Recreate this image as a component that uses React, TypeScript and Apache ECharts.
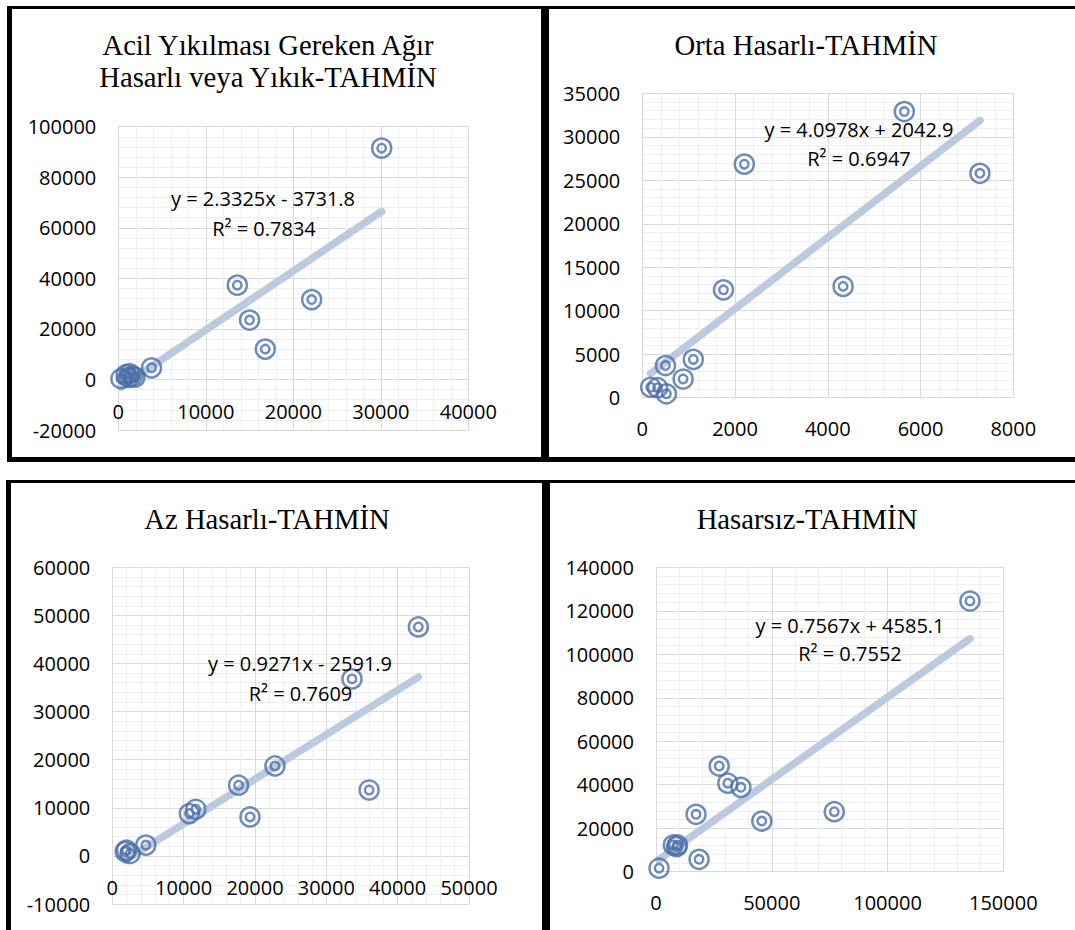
import React, { useEffect, useRef } from "react";
import * as echarts from "echarts";

// ---- Data ----
const titles1 = ["Acil Yıkılması Gereken Ağır", "Hasarlı veya Yıkık-TAHMİN"];
const title2 = "Orta Hasarlı-TAHMİN";
const title3 = "Az Hasarlı-TAHMİN";
const title4 = "Hasarsız-TAHMİN";

const p1X = [300, 900, 1300, 1600, 1200, 1900, 3800, 13600, 15000, 16800, 22100, 30100];
const p1Y = [300, 1900, 2300, 1300, 800, 900, 4600, 37300, 23500, 12000, 31600, 91500];
const p1Eq = ["y = 2.3325x - 3731.8", "R² = 0.7834"];
const p1Fit = [2.3325, -3731.8];

const p2X = [180, 330, 520, 880, 500, 1100, 1750, 2200, 4330, 5650, 7280];
const p2Y = [1200, 1150, 450, 2150, 3700, 4400, 12400, 26850, 12800, 32900, 25800];
const p2Eq = ["y = 4.0978x + 2042.9", "R² = 0.6947"];
const p2Fit = [4.0978, 2042.9];

const p3X = [1800, 2000, 2500, 4700, 10800, 11700, 17700, 19300, 22800, 33600, 36000, 42900];
const p3Y = [900, 1200, 500, 2250, 8800, 9700, 14700, 8100, 18700, 36800, 13700, 47600];
const p3Eq = ["y = 0.9271x - 2591.9", "R² = 0.7609"];
const p3Fit = [0.9271, -2591.9];

const p4X = [1300, 7500, 9300, 8900, 17300, 18600, 27300, 31000, 36700, 45700, 77000, 135600];
const p4Y = [1600, 12300, 12300, 11500, 26400, 5700, 48600, 40700, 38800, 23300, 27600, 124500];
const p4Eq = ["y = 0.7567x + 4585.1", "R² = 0.7552"];
const p4Fit = [0.7567, 4585.1];

// axis ranges: [xmin, xmax, xint, ymin, ymax, yint]
const p1Axes = [0, 40000, 10000, -20000, 100000, 20000];
const p2Axes = [0, 8000, 2000, 0, 35000, 5000];
const p3Axes = [0, 50000, 10000, -10000, 60000, 10000];
const p4Axes = [0, 150000, 50000, 0, 140000, 20000];

const MARK = "#4a6fa8";
const TREND = "#bccadf";
const LABEL_FONT = "Open Sans";
const TITLE_FONT = "Liberation Serif";

const panels = [
  { xs: p1X, ys: p1Y, fit: p1Fit, axes: p1Axes, xMargin: -28.3, grid: { left: 118.3, top: 126.7, width: 350, height: 303.3 } },
  { xs: p2X, ys: p2Y, fit: p2Fit, axes: p2Axes, xMargin: 21, grid: { left: 642.3, top: 93.3, width: 371, height: 304.4 } },
  { xs: p3X, ys: p3Y, fit: p3Fit, axes: p3Axes, xMargin: -26.7, grid: { left: 112.3, top: 567.3, width: 356.7, height: 336.7 } },
  { xs: p4X, ys: p4Y, fit: p4Fit, axes: p4Axes, xMargin: 21, grid: { left: 656, top: 567.3, width: 347.3, height: 304.4 } },
];

function axisCommon(min: number, max: number, interval: number, i: number, margin: number) {
  return {
    type: "value",
    gridIndex: i,
    min,
    max,
    interval,
    axisLine: { show: true, onZero: false, lineStyle: { color: "#d9d9d9", width: 1 } },
    axisTick: { show: false },
    axisLabel: {
      fontFamily: LABEL_FONT,
      fontSize: 20,
      color: "#000",
      margin,
      hideOverlap: false,
      formatter: (v: number) => String(v),
    },
    splitLine: { show: true, lineStyle: { color: "#d9d9d9", width: 1 } },
    minorTick: { show: false, splitNumber: 5 },
    minorSplitLine: { show: true, lineStyle: { color: "#efefef", width: 1 } },
  };
}

function textEl(text: string, x: number, y: number, font: string) {
  return {
    type: "text",
    x,
    y,
    z: 100,
    style: { text, font, fill: "#000", align: "center", verticalAlign: "middle" },
  };
}

export default function App() {
  const ref = useRef<HTMLDivElement>(null);
  useEffect(() => {
    if (!ref.current) return;
    const chart = echarts.init(ref.current, undefined, { renderer: "svg" });
    const grids: any[] = [];
    const xAxes: any[] = [];
    const yAxes: any[] = [];
    const series: any[] = [];
    panels.forEach((p, i) => {
      grids.push({ ...p.grid, containLabel: false });
      xAxes.push(axisCommon(p.axes[0], p.axes[1], p.axes[2], i, p.xMargin));
      yAxes.push(axisCommon(p.axes[3], p.axes[4], p.axes[5], i, 22));
      const pts = p.xs.map((x, k) => [x, p.ys[k]]);
      const xmin = Math.min(...p.xs);
      const xmax = Math.max(...p.xs);
      series.push({
        type: "line",
        xAxisIndex: i,
        yAxisIndex: i,
        data: [
          [xmin, p.fit[0] * xmin + p.fit[1]],
          [xmax, p.fit[0] * xmax + p.fit[1]],
        ],
        symbol: "none",
        z: 1,
        lineStyle: { color: TREND, width: 7.5, cap: "round" },
        silent: true,
      });
      series.push({
        type: "scatter",
        xAxisIndex: i,
        yAxisIndex: i,
        data: pts,
        symbol: "circle",
        symbolSize: 19,
        z: 3,
        itemStyle: { color: "rgba(255,255,255,0)", borderColor: MARK, borderWidth: 2.5 },
      });
      series.push({
        type: "scatter",
        xAxisIndex: i,
        yAxisIndex: i,
        data: pts,
        symbol: "circle",
        symbolSize: 8.5,
        z: 3,
        itemStyle: { color: "rgba(255,255,255,0)", borderColor: MARK, borderWidth: 2.4 },
      });
    });

    const tf = `28.7px "${TITLE_FONT}"`;
    const ef = `20px "${LABEL_FONT}"`;
    const graphics: any[] = [
      // frame lines
      { type: "rect", shape: { x: 7, y: 6, width: 1068, height: 3 }, style: { fill: "#000" } },
      { type: "rect", shape: { x: 7, y: 6, width: 5, height: 456 }, style: { fill: "#000" } },
      { type: "rect", shape: { x: 541, y: 6, width: 8, height: 456 }, style: { fill: "#000" } },
      { type: "rect", shape: { x: 7, y: 457, width: 1068, height: 5 }, style: { fill: "#000" } },
      { type: "rect", shape: { x: 6, y: 480, width: 1069, height: 3 }, style: { fill: "#000" } },
      { type: "rect", shape: { x: 6, y: 480, width: 5, height: 450 }, style: { fill: "#000" } },
      { type: "rect", shape: { x: 542, y: 480, width: 8, height: 450 }, style: { fill: "#000" } },
      // titles
      textEl(titles1[0], 268, 45, tf),
      textEl(titles1[1], 268, 77, tf),
      textEl(title2, 806, 45, tf),
      textEl(title3, 267, 519, tf),
      textEl(title4, 807, 519, tf),
      // equations
      textEl(p1Eq[0], 263, 198, ef),
      textEl(p1Eq[1], 264, 228, ef),
      textEl(p2Eq[0], 859, 129, ef),
      textEl(p2Eq[1], 859, 158, ef),
      textEl(p3Eq[0], 300, 663, ef),
      textEl(p3Eq[1], 300.5, 693, ef),
      textEl(p4Eq[0], 850, 625, ef),
      textEl(p4Eq[1], 850, 653, ef),
    ];

    chart.setOption({
      animation: false,
      backgroundColor: "#fff",
      grid: grids,
      xAxis: xAxes,
      yAxis: yAxes,
      series,
      graphic: graphics,
    });
    return () => chart.dispose();
  }, []);
  return (
    <div
      ref={ref}
      style={{ position: "fixed", left: 0, top: 0, width: 1075, height: 930, background: "#fff" }}
    />
  );
}
